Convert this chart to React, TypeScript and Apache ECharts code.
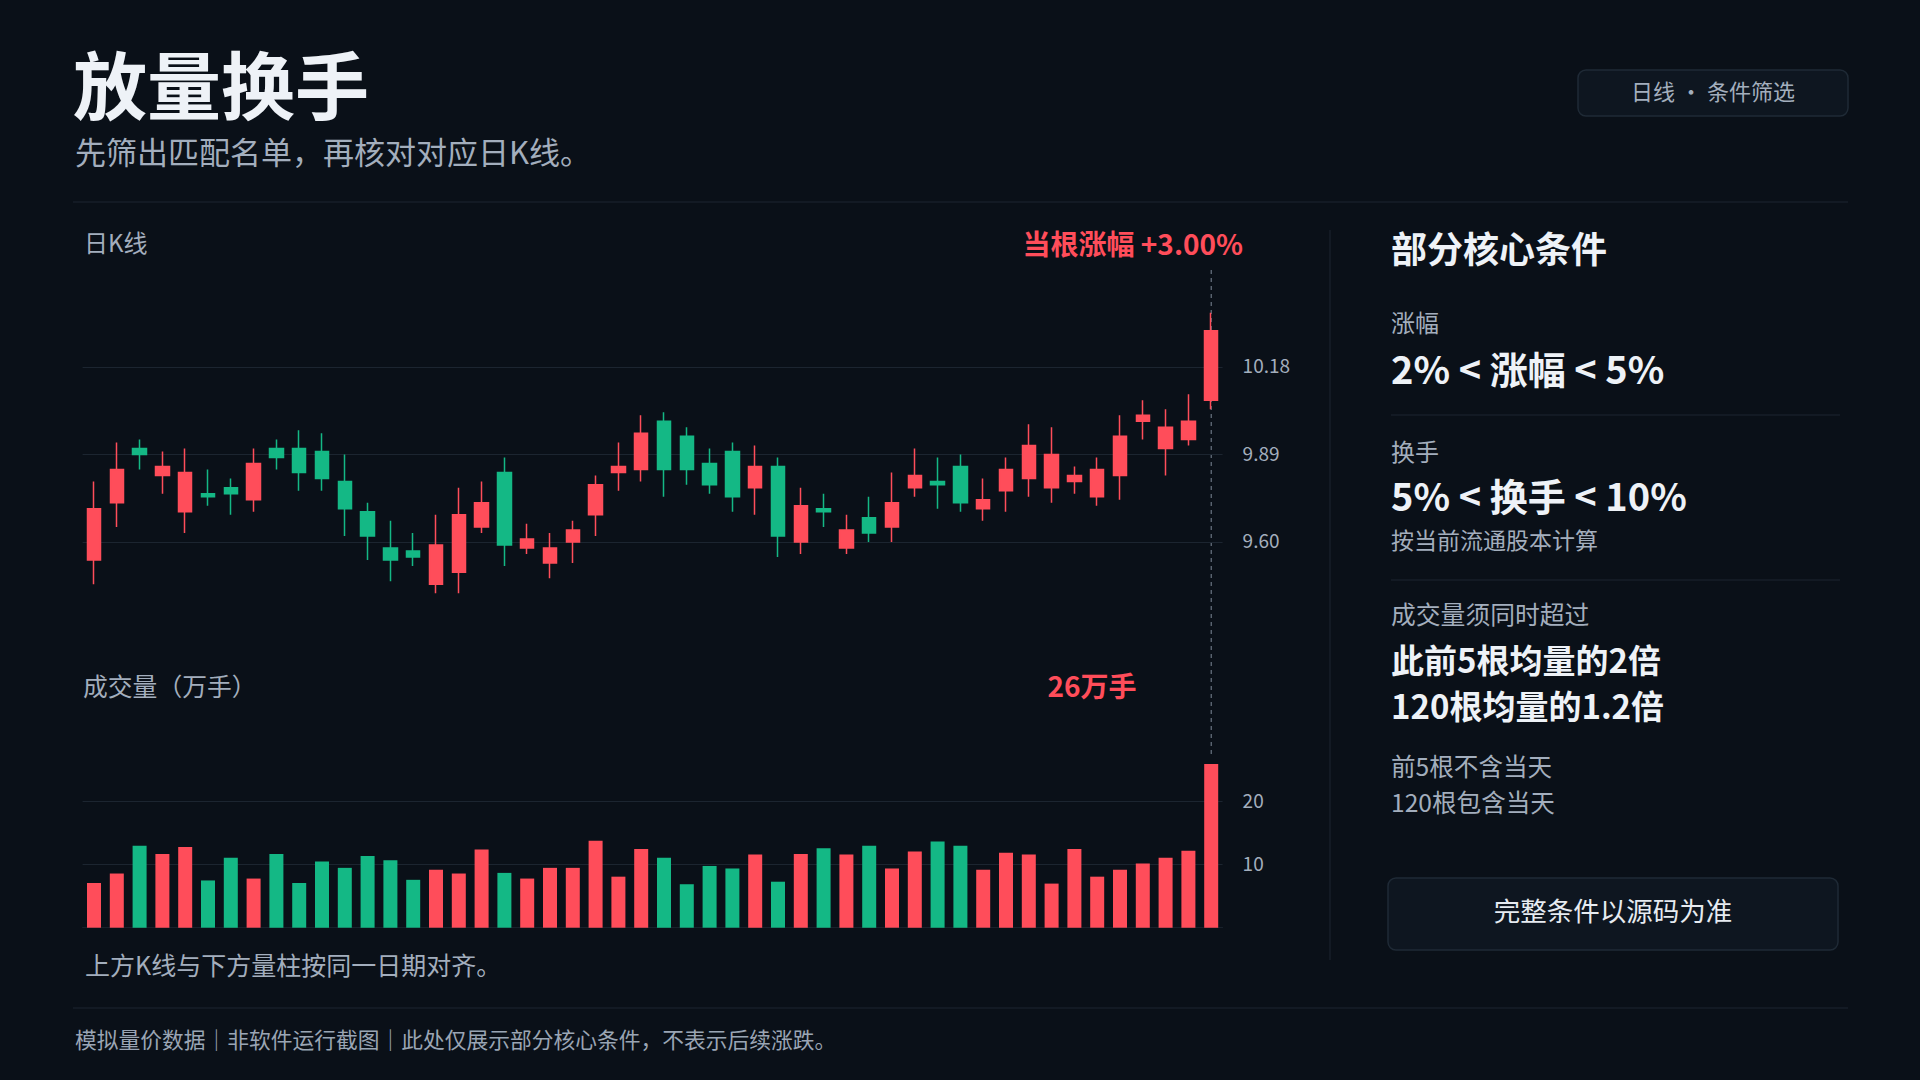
import React, { useEffect, useRef } from 'react';
import * as echarts from 'echarts';

const FONT = '"Noto Sans CJK SC", "Noto Sans", sans-serif';
const BG = '#0a1018';
const UP = '#ff4d5a';
const DOWN = '#14b885';
const GRID = '#1c2530';
const MUTED = '#a3aebd';
const WHITE = '#eef2f7';

// 50 trading days
const days = Array.from({ length: 50 }, (_, i) => `D${i + 1}`);

const openPrices = [
  9.54, 9.73, 9.91, 9.82, 9.70, 9.76, 9.78, 9.74, 9.91, 9.91,
  9.90, 9.80, 9.70, 9.58, 9.57, 9.46, 9.50, 9.65, 9.83, 9.58,
  9.53, 9.60, 9.69, 9.83, 9.84, 10.00, 9.95, 9.86, 9.90, 9.78,
  9.85, 9.60, 9.71, 9.58, 9.68, 9.65, 9.78, 9.80, 9.85, 9.71,
  9.77, 9.81, 9.78, 9.80, 9.75, 9.82, 10.00, 9.91, 9.94, 10.07,
];
const closePrices = [
  9.71, 9.84, 9.89, 9.85, 9.83, 9.75, 9.76, 9.86, 9.88, 9.83,
  9.81, 9.71, 9.62, 9.54, 9.55, 9.59, 9.69, 9.73, 9.59, 9.61,
  9.58, 9.64, 9.79, 9.85, 9.96, 9.84, 9.84, 9.79, 9.75, 9.85,
  9.62, 9.72, 9.70, 9.64, 9.63, 9.73, 9.82, 9.79, 9.73, 9.74,
  9.84, 9.92, 9.89, 9.82, 9.84, 9.95, 10.02, 9.98, 10.00, 10.30,
];
const lowPrices = [
  9.46, 9.65, 9.84, 9.76, 9.63, 9.72, 9.69, 9.70, 9.84, 9.77,
  9.77, 9.62, 9.54, 9.47, 9.52, 9.43, 9.43, 9.63, 9.52, 9.56,
  9.48, 9.53, 9.62, 9.77, 9.80, 9.75, 9.79, 9.76, 9.70, 9.69,
  9.55, 9.56, 9.65, 9.56, 9.60, 9.60, 9.75, 9.71, 9.70, 9.67,
  9.70, 9.75, 9.73, 9.76, 9.72, 9.74, 9.94, 9.82, 9.92, 10.04,
];
const highPrices = [
  9.80, 9.93, 9.94, 9.90, 9.91, 9.84, 9.81, 9.91, 9.94, 9.97,
  9.96, 9.89, 9.73, 9.67, 9.63, 9.69, 9.78, 9.80, 9.88, 9.66,
  9.63, 9.67, 9.82, 9.93, 10.02, 10.03, 9.98, 9.91, 9.93, 9.92,
  9.88, 9.78, 9.76, 9.69, 9.75, 9.83, 9.91, 9.88, 9.89, 9.81,
  9.88, 9.99, 9.98, 9.85, 9.88, 10.02, 10.07, 10.04, 10.09, 10.36,
];
// 成交量, 万手
const volumes = [
  7.1, 8.6, 13.0, 11.7, 12.8, 7.5, 11.1, 7.8, 11.7, 7.1,
  10.5, 9.5, 11.4, 10.7, 7.6, 9.2, 8.6, 12.4, 8.7, 7.8,
  9.5, 9.5, 13.8, 8.1, 12.5, 11.1, 6.9, 9.8, 9.4, 11.6,
  7.3, 11.7, 12.6, 11.6, 13.0, 9.4, 12.1, 13.7, 13.0, 9.2,
  11.9, 11.6, 7.0, 12.5, 8.1, 9.2, 10.2, 11.1, 12.2, 26.0,
];

const priceTicks = [9.6, 9.89, 10.18];
const volumeTicks = [10, 20];

const isUp = (i: number) => closePrices[i] >= openPrices[i];

// the CJK face sits a little low when centred, so lift it by 3px
const txt = (
  text: string,
  x: number,
  y: number,
  size: number,
  fill: string,
  weight: string = 'normal',
  align: string = 'left'
) => ({
  type: 'text',
  x,
  y: y - 3,
  silent: true,
  style: {
    text,
    fill,
    fontSize: size,
    fontWeight: weight,
    fontFamily: FONT,
    align,
    verticalAlign: 'middle',
    textAlign: align,
    textVerticalAlign: 'middle',
  },
});

const hline = (x1: number, x2: number, y: number) => ({
  type: 'line',
  silent: true,
  shape: { x1, y1: y, x2, y2: y },
  style: { stroke: GRID, lineWidth: 1 },
});

const box = (x: number, y: number, width: number, height: number) => ({
  type: 'rect',
  silent: true,
  shape: { x, y, width, height, r: 8 },
  style: { fill: '#0e1620', stroke: '#1f2a36', lineWidth: 1.5 },
});

const App: React.FC = () => {
  const chartRef = useRef<HTMLDivElement>(null);

  useEffect(() => {
    if (!chartRef.current) return;
    const chart = echarts.init(chartRef.current, undefined, { renderer: 'svg' });

    const last = days.length - 1;
    const pct = (closePrices[last] / closePrices[last - 1] - 1) * 100;

    const tickLabel = (decimals: number) => ({
      position: 'end',
      distance: 20,
      offset: [0, -2],
      color: MUTED,
      fontSize: 19,
      fontFamily: FONT,
      formatter: (p: any) => Number(p.value).toFixed(decimals),
    });

    chart.setOption({
      animation: false,
      backgroundColor: BG,
      textStyle: { fontFamily: FONT },
      grid: [
        { left: 82.6, width: 1140, top: 300.6, height: 301.7, outerBoundsMode: 'none' },
        { left: 82.6, width: 1140, top: 738.7, height: 189, outerBoundsMode: 'none' },
      ],
      xAxis: [
        { type: 'category', gridIndex: 0, data: days, boundaryGap: true, show: false },
        {
          type: 'category',
          gridIndex: 1,
          data: days,
          boundaryGap: true,
          axisLine: { show: true, lineStyle: { color: '#18212b' } },
          axisTick: { show: false },
          axisLabel: { show: false },
        },
      ],
      yAxis: [
        { type: 'value', gridIndex: 0, min: 9.4, max: 10.4, show: false, splitLine: { show: false } },
        { type: 'value', gridIndex: 1, min: 0, max: 30, show: false, splitLine: { show: false } },
      ],
      series: [
        {
          type: 'candlestick',
          xAxisIndex: 0,
          yAxisIndex: 0,
          barWidth: 14,
          silent: true,
          data: days.map((_, i) => [openPrices[i], closePrices[i], lowPrices[i], highPrices[i]]),
          itemStyle: {
            color: UP,
            color0: DOWN,
            borderColor: UP,
            borderColor0: DOWN,
            borderWidth: 1.5,
          },
          markLine: {
            silent: true,
            symbol: 'none',
            z: 1,
            lineStyle: { color: GRID, type: 'solid', width: 1 },
            label: tickLabel(2),
            data: priceTicks.map((v) => ({ yAxis: v })),
          },
        },
        {
          type: 'bar',
          xAxisIndex: 1,
          yAxisIndex: 1,
          barWidth: 14,
          silent: true,
          data: volumes.map((v, i) => ({ value: v, itemStyle: { color: isUp(i) ? UP : DOWN } })),
          markLine: {
            silent: true,
            symbol: 'none',
            z: 1,
            lineStyle: { color: GRID, type: 'solid', width: 1 },
            label: tickLabel(0),
            data: volumeTicks.map((v) => ({ yAxis: v })),
          },
        },
      ],
    });

    // dashed marker through the latest bar, located via the axes
    const lastX = chart.convertToPixel({ xAxisIndex: 0 }, last) as number;
    const lastVolTop = chart.convertToPixel({ yAxisIndex: 1 }, volumes[last]) as number;

    chart.setOption({
      graphic: [
        txt('放量换手', 73, 84, 74, WHITE, 'bold'),
        txt('先筛出匹配名单，再核对对应日K线。', 75, 153, 31, MUTED),
        box(1578, 70, 270, 46),
        txt('日线 · 条件筛选', 1713, 93, 22, MUTED, 'normal', 'center'),
        hline(73, 1848, 202),

        txt('日K线', 84, 244, 24, MUTED),
        txt(`当根涨幅 +${pct.toFixed(2)}%`, 1243, 246, 28, UP, 'bold', 'right'),
        txt('成交量（万手）', 83, 688, 24.8, MUTED),
        txt(`${Math.round(volumes[last])}万手`, 1092, 688, 28, UP, 'bold', 'center'),
        txt('上方K线与下方量柱按同一日期对齐。', 85, 967, 25, MUTED),
        {
          type: 'line',
          silent: true,
          shape: { x1: lastX, y1: 270, x2: lastX, y2: lastVolTop - 6 },
          style: { stroke: '#7d8998', lineWidth: 1, lineDash: [4, 4] },
        },
        {
          type: 'line',
          silent: true,
          shape: { x1: 1330, y1: 230, x2: 1330, y2: 960 },
          style: { stroke: GRID, lineWidth: 1 },
        },

        txt('部分核心条件', 1391, 250, 36, WHITE, 'bold'),
        txt('涨幅', 1391, 324, 24, MUTED),
        txt('2% < 涨幅 < 5%', 1391, 370, 38, WHITE, 'bold'),
        hline(1391, 1840, 415),
        txt('换手', 1391, 453, 24, MUTED),
        txt('5% < 换手 < 10%', 1391, 497, 38, WHITE, 'bold'),
        txt('按当前流通股本计算', 1391, 542, 23, MUTED),
        hline(1391, 1840, 580),
        txt('成交量须同时超过', 1391, 616, 24.8, MUTED),
        txt('此前5根均量的2倍', 1391, 662, 33, WHITE, 'bold'),
        txt('120根均量的1.2倍', 1391, 708, 33, WHITE, 'bold'),
        txt('前5根不含当天', 1391, 768, 24.6, MUTED),
        txt('120根包含当天', 1391, 804, 24.6, MUTED),
        box(1388, 878, 450, 72),
        txt('完整条件以源码为准', 1613, 912, 26.5, '#e6ebf1', 'normal', 'center'),

        hline(73, 1848, 1008),
        txt('模拟量价数据｜非软件运行截图｜此处仅展示部分核心条件，不表示后续涨跌。', 75, 1041, 21.75, '#9aa5b4'),
      ],
    });

    return () => {
      chart.dispose();
    };
  }, []);

  return (
    <div
      ref={chartRef}
      style={{ position: 'absolute', left: 0, top: 0, width: '1920px', height: '1080px' }}
      aria-label="放量换手 日K线与成交量"
      role="img"
    />
  );
};

export default App;
